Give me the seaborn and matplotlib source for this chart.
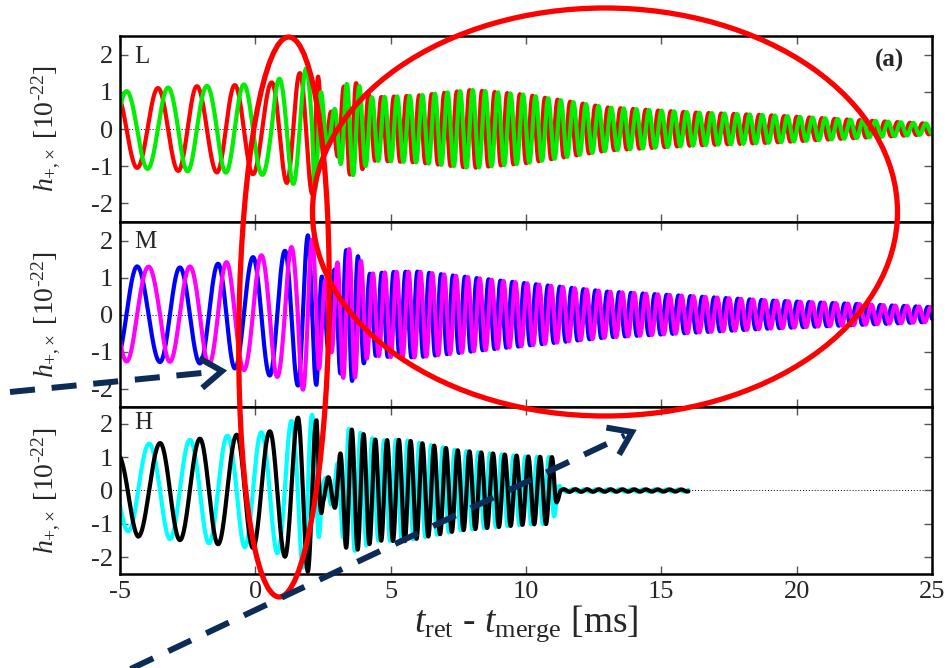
import numpy as np
import pandas as pd
import matplotlib
matplotlib.use("Agg")
import matplotlib.pyplot as plt
import seaborn as sns
from matplotlib.patches import Ellipse
from matplotlib.lines import Line2D
from matplotlib.transforms import IdentityTransform

# ---------------- data ----------------
x_ticks = [-5, 0, 5, 10, 15, 20, 25]
y_ticks = [-2, -1, 0, 1, 2]
panel_labels = ["L", "M", "H"]

# times of successive extrema of the h+ curve (alternating), before merger [ms]
L_ext_t = [-5.15, -4.37, -3.6, -2.85, -2.16, -1.42, -0.76, -0.09, 0.6, 1.16, 1.64, 2.1]
M_ext_t = [-5.15, -4.37, -3.52, -2.79, -2.05, -1.38, -0.76, -0.09, 0.53, 1.09, 1.57, 1.94, 2.26]
H_ext_t = [-5.1, -4.33, -3.52, -2.79, -2.05, -1.38, -0.69, -0.09, 0.53, 1.09, 1.57, 1.94, 2.26]
# phase of the first listed extremum (0 = maximum, 1 = minimum, in units of pi)
L_first = 0
M_first = 1
H_first = 0
# post-merger oscillation frequency [kHz]
L_f_post = 2.15
M_f_post = 2.28
H_f_post = 2.30
# envelope of the oscillation [1e-22]
L_env_t = [-5, -3.6, -2.16, -0.76, 0.6, 1.16, 1.64, 2.1, 2.3, 2.6, 2.9, 3.3, 3.7, 4.3, 6, 8, 10, 13, 16, 19, 22, 25]
L_env_a = [1.0, 1.1, 1.15, 1.18, 1.25, 1.45, 1.5, 1.75, 1.5, 0.4, 0.5, 1.2, 1.25, 0.85, 0.9, 1.05, 0.92, 0.58, 0.45, 0.37, 0.25, 0.14]
M_env_t = [-5, -4.37, -2.79, -1.38, -0.09, 0.53, 1.09, 1.57, 1.94, 2.26, 2.5, 2.8, 3.2, 3.6, 4.2, 5, 6, 9, 13, 19, 25]
M_env_a = [1.25, 1.3, 1.27, 1.37, 1.55, 1.65, 1.72, 1.92, 2.14, 1.9, 0.9, 1.0, 1.7, 1.8, 1.1, 1.15, 1.16, 0.92, 0.62, 0.38, 0.2]
H_env_t = [-5, -4.33, -3.52, -2.05, -0.69, 0.53, 1.09, 1.57, 1.94, 2.26, 2.5, 2.9, 3.4, 3.7, 4.5, 5.5, 7.5, 10, 11.0, 11.15, 11.3, 16]
H_env_a = [1.1, 1.38, 1.42, 1.55, 1.67, 1.77, 1.98, 2.18, 2.43, 2.1, 0.35, 0.45, 1.85, 1.8, 1.5, 1.52, 1.2, 1.02, 1.0, 0.35, 0.04, 0.03]
# end of each simulation [ms]
L_t_end = 25.0
M_t_end = 25.0
H_t_end = 16.0
# sign of the h_x curve relative to sin(phase)
L_cross_sign = 1
M_cross_sign = 1
H_cross_sign = -1

plus_names = ["h+ (L)", "h+ (M)", "h+ (H)"]
cross_names = ["hx (L)", "hx (M)", "hx (H)"]
colors_plus = ["#ff0000", "#0000ff", "#000000"]
colors_cross = ["#00ee00", "#ff00ff", "#00ffff"]


def build(ext_t, first, f_post, env_t, env_a, t_end, csign, pname, cname):
    t = np.arange(-5.0, t_end + 1e-9, 0.004)
    k = np.arange(len(ext_t)) + first
    ph_knots = np.pi * k
    ph = np.interp(t, ext_t, ph_knots)
    late = t > ext_t[-1]
    ph[late] = ph_knots[-1] + 2 * np.pi * f_post * (t[late] - ext_t[-1])
    a = np.interp(t, env_t, env_a)
    hp = a * np.cos(ph)
    hc = csign * a * np.sin(ph)
    return pd.DataFrame({
        "t": np.concatenate([t, t]),
        "h": np.concatenate([hp, hc]),
        "pol": [pname] * len(t) + [cname] * len(t),
    })


frames = [
    build(L_ext_t, L_first, L_f_post, L_env_t, L_env_a, L_t_end, L_cross_sign, plus_names[0], cross_names[0]),
    build(M_ext_t, M_first, M_f_post, M_env_t, M_env_a, M_t_end, M_cross_sign, plus_names[1], cross_names[1]),
    build(H_ext_t, H_first, H_f_post, H_env_t, H_env_a, H_t_end, H_cross_sign, plus_names[2], cross_names[2]),
]
# order in which the two curves are drawn (last on top)
draw_order = [
    [plus_names[0], cross_names[0]],
    [plus_names[1], cross_names[1]],
    [cross_names[2], plus_names[2]],
]

# ---------------- figure ----------------
sns.set_theme(style="ticks")
plt.rcParams["font.family"] = ["Liberation Serif", "DejaVu Serif"]
plt.rcParams["mathtext.fontset"] = "custom"
plt.rcParams["mathtext.rm"] = "Liberation Serif"
plt.rcParams["mathtext.it"] = "Liberation Serif:italic"
plt.rcParams["mathtext.bf"] = "Liberation Serif:bold"
plt.rcParams["axes.unicode_minus"] = False

W, H = 951, 668
fig = plt.figure(figsize=(W / 100, H / 100), dpi=100)
left, right = 120, 932
bounds = [(36, 222), (222, 407), (407, 574)]
axes = []
for (top, bot) in bounds:
    ax = fig.add_axes([left / W, 1 - bot / H, (right - left) / W, (bot - top) / H])
    axes.append(ax)

ylab = r"$h_{+{,}\times}$ [10$^{" + "\u2010" + r"22}$]"

for i, ax in enumerate(axes):
    df = frames[i]
    pal = {plus_names[i]: colors_plus[i], cross_names[i]: colors_cross[i]}
    sns.lineplot(data=df, x="t", y="h", hue="pol", hue_order=draw_order[i], palette=pal,
                 estimator=None, sort=False, legend=False, lw=3.0, ax=ax)
    ax.axhline(0, color="black", lw=0.7, ls=(0, (1, 2)), zorder=0.5)
    ax.set_xlim(-5, 25)
    ax.set_ylim(-2.5, 2.5)
    ax.set_xticks(x_ticks)
    ax.set_yticks(y_ticks)
    ax.tick_params(direction="in", length=6, width=1, color="#555555",
                   top=True, right=True, labelsize=19, pad=5)
    for s in ax.spines.values():
        s.set_linewidth(1.8)
        s.set_color("black")
    ax.set_ylabel(ylab, fontsize=20)
    ax.yaxis.set_label_coords(-0.072, 0.5)
    ax.set_xlabel("")
    if i < 2:
        ax.tick_params(labelbottom=False)
    ax.text(0.018, [0.945, 0.95, 0.968][i], panel_labels[i], transform=ax.transAxes,
            ha="left", va="top", fontsize=18)

axes[0].text(0.966, 0.93, "(a)", transform=axes[0].transAxes, ha="right", va="top",
             fontsize=18, fontweight="bold")
axes[2].set_xlabel(r"$t_{\rm ret}$ - $t_{\rm merge}$ [ms]", fontsize=27, labelpad=0)

# ---------------- annotations (pixel coordinates) ----------------
ident = IdentityTransform()


def P(x, y):
    return x, H - y


e1 = Ellipse(P(284, 317), 90, 560, angle=-1.0, fill=False, ec="#ff0000", lw=3.8,
             transform=ident, zorder=10)
e2 = Ellipse(P(605, 212), 585, 408, fill=False, ec="#ff0000", lw=3.8, transform=ident, zorder=10)
fig.add_artist(e1)
fig.add_artist(e2)

navy = "#0d2b57"


def dashed_arrow(x0, y0, x1, y1):
    p0 = np.array(P(x0, y0), float)
    p1 = np.array(P(x1, y1), float)
    d = (p1 - p0) / np.linalg.norm(p1 - p0)
    shaft_end = p1 - 8 * d
    fig.add_artist(Line2D([p0[0], shaft_end[0]], [p0[1], shaft_end[1]], transform=ident,
                          color=navy, lw=4.3, ls=(0, (4.2, 2.8)), solid_capstyle="butt",
                          dash_capstyle="butt", zorder=11))
    back = -d
    arms = []
    for ang in (np.deg2rad(35), -np.deg2rad(35)):
        r = np.array([[np.cos(ang), -np.sin(ang)], [np.sin(ang), np.cos(ang)]])
        arms.append(p1 + 26 * (r @ back))
    fig.add_artist(Line2D([arms[0][0], p1[0], arms[1][0]], [arms[0][1], p1[1], arms[1][1]],
                          transform=ident, color=navy, lw=4.3, solid_joinstyle="miter",
                          solid_capstyle="butt", zorder=11))


dashed_arrow(10, 392, 222, 371)
dashed_arrow(120, 674, 632, 432)

fig.savefig("out.png", dpi=100)
